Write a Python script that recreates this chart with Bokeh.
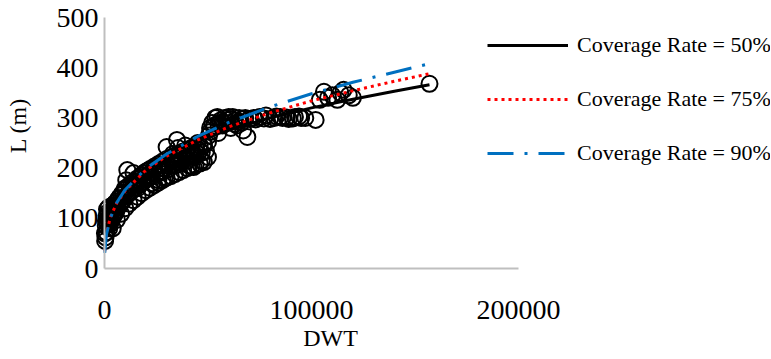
from bokeh.plotting import figure
from bokeh.models import Range1d, FixedTicker, BasicTickFormatter, Legend, LegendItem, Label
from bokeh.embed import file_html
from bokeh.resources import INLINE

# Observed data (DWT, L)
dwt = [200, 300, 500, 600, 700, 900, 1000, 1200, 1300, 1500, 1700, 1800, 2000, 2200, 2300, 2600,
       3000, 3300, 3600, 4000, 4500, 5000, 5500, 6000, 7000, 8000,
       9000, 10000, 10500, 11000, 12000, 13000, 14000, 15000, 16000, 17000, 18000, 19000,
       20000, 21000, 22000, 23000, 24000, 25000, 26000, 27000, 28000, 29000, 30000,
       30000, 31000, 32000, 33000, 34000, 35000, 35500, 36000, 37000, 38000, 39000, 40000,
       41000, 42000, 43000, 44000, 45000, 46000, 47000, 48000, 50000,
       2000, 3000, 4000, 5000, 6000, 7000, 8000, 9000, 10000, 12000, 14000, 16000, 18000,
       20000, 22000, 24000, 26000, 28000, 30000, 32000, 34000, 36000, 38000, 40000, 42000,
       44000, 46000, 48000, 50000,
       2500, 3500, 4500, 5500, 6500, 7500, 8500, 9500, 11000, 13000, 15000, 17000, 19000,
       21000, 23000, 25000, 27000, 29000, 31000, 33000, 35000, 37000, 39000, 41000, 43000,
       45000, 47000, 49000,
       4000, 6000, 8000, 10000, 12000, 14000, 16000, 18000, 20000, 22000, 24000, 26000,
       28000, 30000, 32000, 34000, 36000, 38000, 40000, 42000, 44000, 46000, 48000,
       50500, 51000, 52000, 52700, 53500, 54500, 55000, 56000, 57000, 58000, 59000, 60000,
       61000, 62000, 63000, 64000, 65000, 66000, 67000, 68000, 69000,
       51000, 53000, 55000, 57000, 59000, 61000, 63000, 65000, 67000, 70000, 73000,
       72000, 75000, 77000, 78000, 80000, 82000, 83000, 85000, 86000, 88000, 89000, 91000,
       92000, 94000, 95000, 97000, 102000,
       104000, 106000, 108000, 110000, 112500, 114000, 115500, 118000, 120000, 157000]
length = [70, 55, 62, 85, 95, 72, 105, 118, 92, 88, 112, 100, 122, 100, 80, 108,
          95, 115, 125, 105, 118, 130, 112, 125, 140, 132,
          150, 160, 176, 196, 150, 165, 190, 172, 160, 180, 170, 190,
          178, 195, 182, 170, 200, 188, 176, 205, 192, 180, 210,
          242, 198, 215, 228, 205, 256, 240, 220, 210, 232, 245, 215,
          205, 238, 202, 225, 250, 235, 215, 245, 222,
          95, 108, 117, 126, 134, 140, 146, 152, 157, 166, 173, 180, 187,
          193, 198, 203, 208, 213, 218, 221, 225, 229, 233, 237, 240,
          243, 246, 249, 252,
          88, 96, 105, 113, 121, 127, 133, 138, 146, 154, 161, 167, 174,
          179, 184, 189, 194, 199, 204, 207, 211, 215, 219, 222, 225,
          228, 231, 234,
          80, 97, 109, 120, 129, 136, 143, 150, 156, 161, 166, 171,
          176, 181, 184, 188, 192, 196, 200, 203, 206, 209, 212,
          265, 280, 290, 282, 300, 302, 270, 295, 285, 300, 290, 302,
          280, 302, 295, 285, 300, 290, 275, 300, 262,
          272, 285, 288, 292, 296, 298, 288, 293, 298, 298, 297,
          300, 302, 299, 305, 298, 300, 303, 302, 300, 301, 298, 299,
          302, 303, 300, 300, 296,
          336, 352, 340, 345, 336, 350, 356, 345, 340, 368]

# Fitted curves
curve_dwt = [100, 1000, 3000, 6000, 10000, 20000, 30000, 45000, 60000, 80000,
             100000, 120000, 140000, 157000]
rate50 = [43, 85, 116, 142, 165, 201, 226, 254, 276, 300, 320, 337, 353, 366]
rate75 = [34, 72, 104, 131, 155, 196, 224, 256, 282, 310, 334, 354, 373, 388]
rate90 = [31, 69, 102, 132, 157, 199, 228, 263, 291, 322, 348, 371, 391, 408]

x_ticks = [0, 100000, 200000]
y_ticks = [0, 100, 200, 300, 400, 500]
series_labels = ["Coverage Rate = 50%", "Coverage Rate = 75%", "Coverage Rate = 90%"]
x_title = "DWT"
y_title = "L (m)"

FONT = "Liberation Serif"
W, H = 770, 355
# plot origin at (104, 268) px; 414 px per 200000 DWT, 251 px per 500 m
px_per_dwt = 414 / 200000
px_per_m = 251 / 500
x_lo = -104 / px_per_dwt
x_hi = (W - 104) / px_per_dwt
y_hi = 268 / px_per_m
y_lo = -(H - 268) / px_per_m

p = figure(width=W, height=H, output_backend="svg", toolbar_location=None,
           x_range=Range1d(x_lo, x_hi), y_range=Range1d(y_lo, y_hi), min_border=0)
p.outline_line_color = None
p.xgrid.visible = False
p.ygrid.visible = False
p.background_fill_color = "white"

p.scatter(dwt, length, size=16, marker="circle", fill_color=None, line_color="black", line_width=2)

r50 = p.line(curve_dwt, rate50, line_color="black", line_width=3)
r75 = p.line(curve_dwt, rate75, line_color="#FF0000", line_width=3, line_dash="3 4")
r90 = p.line(curve_dwt, rate90, line_color="#0070C0", line_width=3, line_dash="26 11 3 11")

for ax in (p.xaxis[0], p.yaxis[0]):
    ax.fixed_location = 0
    ax.axis_line_color = "#BFBFBF"
    ax.axis_line_width = 2
    ax.major_tick_line_color = None
    ax.minor_tick_line_color = None
    ax.major_tick_out = 0
    ax.major_tick_in = 0
    ax.major_label_text_font = FONT
    ax.major_label_text_font_size = "28px"
    ax.major_label_text_color = "black"

p.xaxis[0].ticker = FixedTicker(ticks=x_ticks)
p.yaxis[0].ticker = FixedTicker(ticks=y_ticks)
p.xaxis[0].bounds = (0, 200000)
p.yaxis[0].bounds = (0, 500)
p.xaxis[0].formatter = BasicTickFormatter(use_scientific=False)
p.xaxis[0].major_label_standoff = 32
p.yaxis[0].major_label_standoff = 6

# axis titles (screen offsets from the bottom-left of the canvas)
p.add_layout(Label(x=330, y=H - 337, x_units="screen", y_units="screen", text=x_title,
                   text_font=FONT, text_font_size="24px", text_color="black",
                   text_align="center", text_baseline="middle"))
p.add_layout(Label(x=17, y=H - 125, x_units="screen", y_units="screen", text=y_title,
                   angle=1.5707963, text_font=FONT, text_font_size="24px", text_color="black",
                   text_align="center", text_baseline="middle"))

legend = Legend(items=[LegendItem(label=series_labels[0], renderers=[r50]),
                       LegendItem(label=series_labels[1], renderers=[r75]),
                       LegendItem(label=series_labels[2], renderers=[r90])],
                location=(487, H - 166))
legend.glyph_width = 81
legend.glyph_height = 20
legend.label_height = 20
legend.spacing = 28
legend.padding = 0
legend.margin = 0
legend.label_standoff = 9
legend.label_text_font = FONT
legend.label_text_font_size = "22px"
legend.label_text_color = "black"
legend.border_line_color = None
legend.background_fill_alpha = 0
p.add_layout(legend, "center")

open("out.html", "w").write(file_html(p, INLINE))
